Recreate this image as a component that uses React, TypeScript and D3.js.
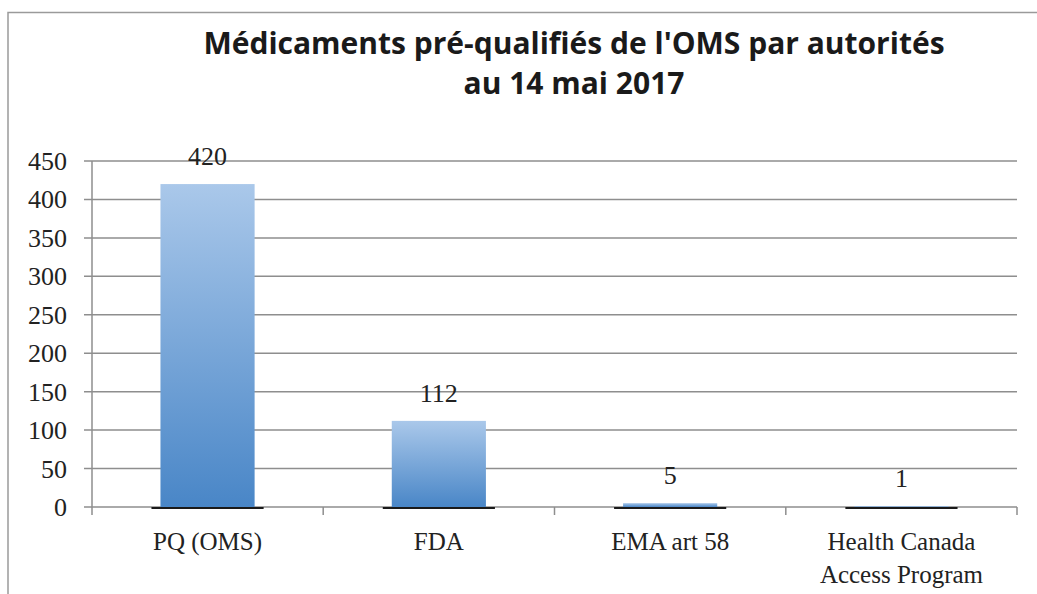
import * as d3 from 'd3';
import { useEffect, useRef } from 'react';

const categories = ['PQ (OMS)', 'FDA', 'EMA art 58', 'Health Canada|Access Program'];
const values = [420, 112, 5, 1];
const yTicks = [0, 50, 100, 150, 200, 250, 300, 350, 400, 450];
const titleLines = ["Médicaments pré-qualifiés de l'OMS par autorités", 'au 14 mai 2017'];

export default function App() {
  const svgRef = useRef<SVGSVGElement | null>(null);

  useEffect(() => {
    if (!svgRef.current) return;
    const W = 1037;
    const H = 594;
    const left = 92;
    const right = 1017;
    const top = 161;
    const bottom = 507;
    const grey = '#8e8e8e';
    const serif = '"Liberation Serif", serif';

    const svg = d3.select(svgRef.current);
    svg.selectAll('*').remove();
    svg.attr('width', W).attr('height', H).attr('viewBox', `0 0 ${W} ${H}`);

    const x = d3.scaleBand<string>().domain(categories).range([left, right]).paddingInner(0.593).paddingOuter(0.296);
    const y = d3.scaleLinear().domain([0, 450]).range([bottom, top]);

    const defs = svg.append('defs');
    const grad = defs.append('linearGradient').attr('id', 'barGrad').attr('x1', 0).attr('y1', 0).attr('x2', 0).attr('y2', 1);
    grad.append('stop').attr('offset', '0%').attr('stop-color', '#aac8ea');
    grad.append('stop').attr('offset', '100%').attr('stop-color', '#4986c7');

    // cadre
    svg.append('path')
      .attr('d', `M8,${H + 2}V12.5H${W + 2}`)
      .attr('fill', 'none')
      .attr('stroke', '#9a9a9a')
      .attr('stroke-width', 1.5);

    // titre
    const title = svg.append('text')
      .attr('text-anchor', 'middle')
      .attr('font-family', '"Open Sans", sans-serif')
      .attr('font-weight', 'bold')
      .attr('font-size', 30)
      .attr('fill', '#1a1a1a');
    titleLines.forEach((t, i) => {
      title.append('tspan').attr('x', 574).attr('y', 54 + i * 40).text(t);
    });

    // grille
    svg.append('g')
      .selectAll('line')
      .data(yTicks)
      .join('line')
      .attr('x1', left - 8)
      .attr('x2', right)
      .attr('y1', d => y(d))
      .attr('y2', d => y(d))
      .attr('stroke', grey)
      .attr('stroke-width', 1.5);

    svg.append('g')
      .selectAll('text')
      .data(yTicks)
      .join('text')
      .attr('x', 67)
      .attr('y', d => y(d) + 9)
      .attr('text-anchor', 'end')
      .attr('font-family', serif)
      .attr('font-size', 26)
      .attr('fill', '#222')
      .text(d => d);

    // axes
    svg.append('line')
      .attr('x1', left).attr('x2', left)
      .attr('y1', top).attr('y2', bottom + 8)
      .attr('stroke', grey).attr('stroke-width', 1.5);

    const bounds = categories.map(c => (x(c) as number) - x.step() * x.paddingInner() / 2);
    bounds[0] = left;
    bounds.push(right);
    svg.append('g')
      .selectAll('line')
      .data(bounds.slice(1))
      .join('line')
      .attr('x1', d => d).attr('x2', d => d)
      .attr('y1', bottom).attr('y2', bottom + 8)
      .attr('stroke', grey).attr('stroke-width', 1.5);

    // barres
    const bars = svg.append('g');
    categories.forEach((c, i) => {
      const bx = x(c) as number;
      const bw = x.bandwidth();
      bars.append('rect')
        .attr('x', bx - 9).attr('y', bottom)
        .attr('width', bw + 18).attr('height', 2)
        .attr('fill', '#1a1a1a');
      bars.append('rect')
        .attr('x', bx).attr('y', y(values[i]))
        .attr('width', bw).attr('height', bottom - y(values[i]))
        .attr('fill', 'url(#barGrad)');
      bars.append('text')
        .attr('x', bx + bw / 2)
        .attr('y', y(values[i]) - 19)
        .attr('text-anchor', 'middle')
        .attr('font-family', serif)
        .attr('font-size', 26)
        .attr('fill', '#222')
        .text(values[i]);
    });

    // étiquettes
    const labels = svg.append('g')
      .attr('font-family', serif)
      .attr('font-size', 25)
      .attr('fill', '#222')
      .attr('text-anchor', 'middle');
    categories.forEach(c => {
      const cx = (x(c) as number) + x.bandwidth() / 2;
      const t = labels.append('text');
      c.split('|').forEach((line, j) => {
        t.append('tspan').attr('x', cx).attr('y', 550 + j * 33).text(line);
      });
    });
  }, []);

  return (
    <svg ref={svgRef} style={{ position: 'absolute', left: 0, top: 0, background: '#fff' }} />
  );
}
